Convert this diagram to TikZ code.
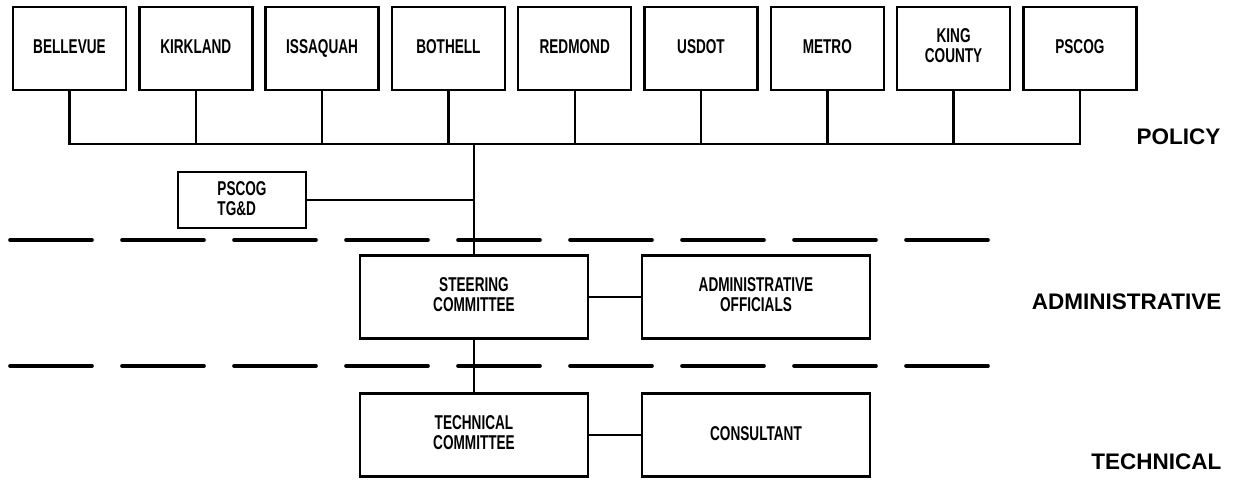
\documentclass[tikz,border=0pt]{standalone}
\usepackage{fontspec}
\setmainfont{Liberation Sans}
\newfontfamily\unitfont[FakeStretch=0.68]{Liberation Sans}
\usepackage{tikz}
\newcommand{\boxlines}[1]{%
	\begin{tabular}{@{}c@{}}
		#1
	\end{tabular}%
}
\tikzset{
	unit/.style={draw, line width=2.4pt, minimum width=113pt, minimum height=83pt, inner sep=2pt,
		font=\unitfont\bfseries\fontsize{20}{20}\selectfont, execute at begin node=\rule[-3pt]{0pt}{15pt}},
	panel/.style={unit, minimum width=228pt},
	divider/.style={line width=3.6pt, line cap=round, dash pattern=on 82pt off 30pt},
	level/.style={anchor=east, font=\bfseries\fontsize{22.5}{24}\selectfont}
}

\begin{document}
\begin{tikzpicture}[x=1pt,y=-1pt,line width=2.4pt]
	\useasboundingbox (0,0) rectangle (1235,480);

	\node[unit] (bellevue) at (69.5,48.5)   {BELLEVUE};
	\node[unit] (kirkland) at (195.8,48.5)  {KIRKLAND};
	\node[unit] (issaquah) at (322.1,48.5)  {ISSAQUAH};
	\node[unit] (bothell)  at (448.4,48.5)  {BOTHELL};
	\node[unit] (redmond)  at (574.7,48.5)  {REDMOND};
	\node[unit] (usdot)    at (701,48.5)    {USDOT};
	\node[unit] (metro)    at (827.3,48.5)  {METRO};
	\node[unit] (king)     at (953.6,48.5)  {\boxlines{KING \\ COUNTY}};
	\node[unit] (pscog)    at (1079.9,48.5) {PSCOG};

	\node[unit, minimum width=128pt, minimum height=56pt, align=left] (tgd) at (242,200) {PSCOG\\TG\&D};

	\node[panel] (steering)   at (474,297) {\boxlines{STEERING \\ COMMITTEE}};
	\node[panel] (officials)  at (756,297) {\boxlines{ADMINISTRATIVE \\ OFFICIALS}};
	\node[panel] (technical)  at (474,435) {\boxlines{TECHNICAL \\ COMMITTEE}};
	\node[panel] (consultant) at (756,435) {CONSULTANT};

	\coordinate (bus) at (474,144);

	\draw (bellevue.south) |- (bus) -| (pscog.south);
	\draw
		(kirkland.south) -- (kirkland.south |- bus)
		(issaquah.south) -- (issaquah.south |- bus)
		(bothell.south)  -- (bothell.south |- bus)
		(redmond.south)  -- (redmond.south |- bus)
		(usdot.south)    -- (usdot.south |- bus)
		(metro.south)    -- (metro.south |- bus)
		(king.south)     -- (king.south |- bus)
	;
	\draw (bus) -- (steering.north);
	\draw (tgd.east) -- (tgd.east -| bus);
	\draw (steering) -- (technical);
	\draw (steering) -- (officials);
	\draw (technical) -- (consultant);

	\draw[divider] (10,240) -- (993,240);
	\draw[divider] (10,366) -- (993,366);

	\node[level] (policy) at (1225,137) {POLICY};
	\node[level] (admin)  at (1226,302) {ADMINISTRATIVE};
	\node[level] (tech)   at (1226,462) {TECHNICAL};
\end{tikzpicture}
\end{document}
